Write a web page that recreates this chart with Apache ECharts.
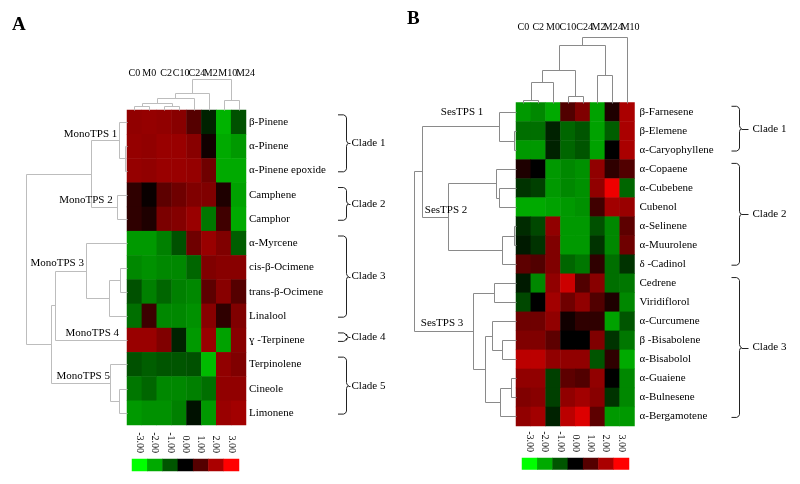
<!DOCTYPE html>
<html><head><meta charset="utf-8">
<script src="https://cdn.jsdelivr.net/npm/echarts@6/dist/echarts.min.js"></script>
<style>html,body{margin:0;padding:0;background:#fff}#c{width:800px;height:484px}</style>
</head><body><div id="c"></div>
<script>
// ---------------- DATA ----------------
const colsA = ['C0','M0','C2','C10','C24','M2','M10','M24'];
const rowsA = ['β-Pinene','α-Pinene','α-Pinene epoxide','Camphene','Camphor','α-Myrcene','cis-β-Ocimene','trans-β-Ocimene','Linalool','ɣ -Terpinene','Terpinolene','Cineole','Limonene'];
const valuesA = [
  [1.7, 1.75, 1.7, 1.6, 1.0, -0.4, -2.1, -0.95],
  [1.75, 1.7, 1.8, 1.8, 1.6, 0.2, -2.0, -1.8],
  [1.75, 1.7, 1.8, 1.8, 1.75, 1.3, -2.0, -2.0],
  [0.55, 0.1, 1.1, 1.3, 1.5, 1.5, 0.35, -1.9],
  [0.55, 0.35, 1.45, 1.55, 1.8, -1.4, 0.75, -2.0],
  [-1.8, -1.8, -1.5, -0.95, 1.3, 1.8, 1.5, -1.1],
  [-1.6, -1.7, -1.6, -1.6, -1.2, 1.5, 1.6, 1.6],
  [-0.95, -1.5, -1.2, -1.5, -1.6, 1.1, 1.6, 1.0],
  [-1.3, 0.7, -1.6, -1.6, -1.7, 1.6, 0.55, 1.5],
  [1.8, 1.8, 1.5, -0.4, -1.8, 1.8, -1.9, 1.6],
  [-0.95, -1.1, -1.0, -1.0, -0.95, -2.2, 1.7, 1.5],
  [-1.4, -1.2, -1.6, -1.6, -1.5, -1.3, 1.7, 1.7],
  [-1.8, -1.7, -1.7, -1.5, -0.2, -1.8, 1.8, 1.9]
];
// row tree A: [childA, childB, height]; ids < n are leaves, id n+k is merge k
const rowTreeA = [[1,2,0.2],[0,13,0.77],[3,4,1.03],[14,15,3.63],[6,7,0.7],[17,8,1.77],[5,18,4.1],[19,9,7.2],[11,12,0.77],[10,21,1.7],[20,22,7.53],[16,23,10.07]];
const colTreeA = [[0,1,0.4],[2,3,0.4],[8,9,0.7],[10,4,1.2],[11,5,1.7],[6,7,1.0],[12,13,3.1]];
const groupsA = [['MonoTPS 1',14],['MonoTPS 2',15],['MonoTPS 3',19],['MonoTPS 4',9],['MonoTPS 5',22]];
const cladesA = [['Clade 1',0,2],['Clade 2',3,4],['Clade 3',5,8],['Clade 4',9,9],['Clade 5',10,12]];

const colsB = ['C0','C2','M0','C10','C24','M2','M24','M10'];
const rowsB = ['β-Farnesene','β-Elemene','α-Caryophyllene','α-Copaene','α-Cubebene','Cubenol','α-Selinene','α-Muurolene','δ -Cadinol','Cedrene','Viridiflorol','α-Curcumene','β -Bisabolene','α-Bisabolol','α-Guaiene','α-Bulnesene','α-Bergamotene'];
const valuesB = [
  [-1.8, -1.6, -2.0, 0.95, 1.5, -1.9, 0.35, 2.0],
  [-1.3, -1.3, -0.4, -1.2, -1.0, -1.9, -1.1, 2.0],
  [-1.8, -1.8, -0.4, -1.2, -1.0, -1.9, 0.0, 2.0],
  [0.35, 0.0, -1.8, -1.6, -1.7, 1.7, 0.55, 0.95],
  [-0.6, -0.75, -1.8, -1.6, -1.7, 1.7, 2.8, -1.2],
  [-2.0, -2.0, -1.9, -1.8, -1.7, 0.75, 1.9, 1.8],
  [-0.5, -0.85, 1.7, -1.8, -1.8, -0.95, -1.6, 1.1],
  [-0.3, -0.6, 1.5, -1.8, -1.8, -0.6, -1.6, 1.3],
  [1.1, 0.95, 1.5, -1.2, -1.4, 0.55, -1.3, -0.6],
  [-0.3, -1.6, 1.7, 2.4, 0.95, 1.6, -1.3, -1.4],
  [-0.85, 0.0, 1.9, 1.3, 1.7, 0.95, 0.35, -1.6],
  [1.3, 1.3, 1.7, 0.2, 0.55, 0.55, -1.9, -1.0],
  [1.5, 1.5, 1.1, 0.0, 0.0, 1.5, -0.6, -1.4],
  [2.2, 2.2, 1.7, 1.7, 1.7, -1.0, 0.55, -2.0],
  [1.7, 1.7, -0.75, 1.1, 0.95, 1.7, 0.0, -1.6],
  [1.5, 1.6, -0.75, 1.7, 1.9, 1.6, -0.6, -1.6],
  [1.7, 1.9, -0.4, 2.2, 2.6, 1.1, -1.8, -1.8]
];
const rowTreeB = [[1,2,0.2],[0,17,1.67],[4,5,1.67],[3,19,2.0],[6,7,0.17],[21,8,1.43],[20,22,6.77],[18,23,9.43],[9,10,2.17],[12,13,1.43],[11,26,2.43],[14,15,0.53],[28,16,1.6],[27,29,3.1],[25,30,4.27],[24,31,10.2]];
const colTreeB = [[0,1,0.3],[3,4,0.65],[8,2,2.1],[10,9,3.27],[5,6,2.77],[11,12,5.77],[13,7,6.6]];
const groupsB = [['SesTPS 1',18],['SesTPS 2',23],['SesTPS 3',31]];
const cladesB = [['Clade 1',0,2],['Clade 2',3,8],['Clade 3',9,16]];

const legendValues = [-3, -2, -1, 0, 1, 2, 3];
const legendLabels = ['-3.00','-2.00','-1.00','0.00','1.00','2.00','3.00'];

// ---------------- LAYOUT / STYLE ----------------
const FONT = "'Liberation Serif','Times New Roman',serif";
const LAYOUT = {
  A: {
    heat: {left: 127, top: 110, width: 119, height: 315},
    rowDenLeft: 26, colDenTop: 79,
    colLabelMargin: 32, rowLabelMargin: 3,
    colLabelShift: [0, 0, 2, 2, 3, 2, 4, 7],
    bracket: {hook: 338, vert: 346, nub: 4, gap: 1},
    legend: {left: 132, top: 459, width: 107, height: 12},
    lineColor: '#bdbdbd',
    groupOffsets: [[-2,-6],[-4,-7],[-2,-7],[-8,-7],[0,-6]],
    letter: {text: 'A', left: 12, top: 16}
  },
  B: {
    heat: {left: 516, top: 102.5, width: 118.5, height: 323.5},
    rowDenLeft: 414, colDenTop: 36.7,
    colLabelMargin: 70, rowLabelMargin: 5,
    colLabelShift: [0, 0, 0, 0, 2, 1, 1, 3],
    bracket: {hook: 731.5, vert: 738.5, nub: 9, gap: 4},
    legend: {left: 522, top: 458, width: 107, height: 11.5},
    lineColor: '#8a8a8a',
    groupOffsets: [[-16,-14],[19,-7],[-10,-8]],
    letter: {text: 'B', left: 407, top: 10}
  }
};

// ---------------- BUILD ----------------
const grid = [], xAxis = [], yAxis = [], series = [], heatSeries = [];
function addGrid(box, xa, ya) {
  grid.push(Object.assign({containLabel: false}, box));
  const gi = grid.length - 1;
  xa.gridIndex = gi; ya.gridIndex = gi;
  xAxis.push(xa); yAxis.push(ya);
  return gi;
}
function vAxis(min, max, inverse) { return {type: 'value', min, max, inverse: !!inverse, show: false}; }
function nodeLayout(n, merges) {
  const pos = [], hgt = [];
  for (let i = 0; i < n; i++) { pos[i] = i; hgt[i] = 0; }
  merges.forEach((m, k) => { pos[n + k] = (pos[m[0]] + pos[m[1]]) / 2; hgt[n + k] = m[2]; });
  return {pos, hgt};
}
const px = v => Math.round(v) + 0.5;

function buildPanel(cols, rows, values, rowTree, colTree, groups, clades, L) {
  const H = L.heat;
  const nR = rows.length, nC = cols.length;
  // heatmap
  const rich = {};
  L.colLabelShift.forEach((s, i) => { rich['s' + i] = {padding: [0, 0, 0, 2 * s], fontSize: 10, fontFamily: FONT, color: '#000'}; });
  const hi = addGrid(H,
    {type: 'category', data: cols, position: 'top', axisLine: {show: false}, axisTick: {show: false}, splitLine: {show: false},
     axisLabel: {interval: 0, margin: L.colLabelMargin, fontSize: 10, fontFamily: FONT, color: '#000', hideOverlap: false,
       formatter: (v, i) => '{s' + i + '|' + v + '}', rich}},
    {type: 'category', data: rows, inverse: true, position: 'right', axisLine: {show: false}, axisTick: {show: false}, splitLine: {show: false},
     axisLabel: {interval: 0, margin: L.rowLabelMargin, fontSize: 11, fontFamily: FONT, color: '#000', align: 'left'}});
  const hdata = [];
  values.forEach((row, r) => row.forEach((v, c) => hdata.push([c, r, v])));
  series.push({type: 'heatmap', xAxisIndex: hi, yAxisIndex: hi, data: hdata, emphasis: {disabled: true}, itemStyle: {borderWidth: 0}});
  heatSeries.push(series.length - 1);

  // row dendrogram
  const rl = nodeLayout(nR, rowTree);
  const rootR = rowTree[rowTree.length - 1][2];
  const ri = addGrid({left: L.rowDenLeft, top: H.top, width: H.left - L.rowDenLeft, height: H.height},
    vAxis(0, rootR, true), vAxis(-0.5, nR - 0.5, true));
  const rsegs = rowTree.map(m => [rl.pos[m[0]], rl.hgt[m[0]], rl.pos[m[1]], rl.hgt[m[1]], m[2]]);
  series.push({type: 'custom', xAxisIndex: ri, yAxisIndex: ri, clip: false, silent: true, data: rsegs,
    renderItem: (p, api) => {
      const a = api.value(0), ha = api.value(1), b = api.value(2), hb = api.value(3), h = api.value(4);
      const pts = [api.coord([ha, a]), api.coord([h, a]), api.coord([h, b]), api.coord([hb, b])].map(q => [px(q[0]), px(q[1])]);
      return {type: 'polyline', shape: {points: pts}, style: {stroke: L.lineColor, lineWidth: 1, fill: null}};
    }});
  // group labels on row dendrogram
  series.push({type: 'custom', xAxisIndex: ri, yAxisIndex: ri, clip: false, silent: true,
    data: groups.map((g, i) => [rl.pos[g[1]], rl.hgt[g[1]], i]),
    renderItem: (p, api) => {
      const i = api.value(2), c = api.coord([api.value(1), api.value(0)]), off = L.groupOffsets[i];
      return {type: 'text', x: c[0] + off[0], y: c[1] + off[1],
        style: {text: groups[i][0], align: 'right', verticalAlign: 'middle', font: '11px ' + FONT, fill: '#000'}};
    }});

  // column dendrogram
  const cl = nodeLayout(nC, colTree);
  const rootC = colTree[colTree.length - 1][2];
  const ci = addGrid({left: H.left, top: L.colDenTop, width: H.width, height: H.top - L.colDenTop},
    vAxis(-0.5, nC - 0.5, false), vAxis(0, rootC, false));
  const csegs = colTree.map(m => [cl.pos[m[0]], cl.hgt[m[0]], cl.pos[m[1]], cl.hgt[m[1]], m[2]]);
  series.push({type: 'custom', xAxisIndex: ci, yAxisIndex: ci, clip: false, silent: true, data: csegs,
    renderItem: (p, api) => {
      const a = api.value(0), ha = api.value(1), b = api.value(2), hb = api.value(3), h = api.value(4);
      const pts = [api.coord([a, ha]), api.coord([a, h]), api.coord([b, h]), api.coord([b, hb])].map(q => [px(q[0]), px(q[1])]);
      return {type: 'polyline', shape: {points: pts}, style: {stroke: L.lineColor, lineWidth: 1, fill: null}};
    }});

  // clade brackets
  const B = L.bracket;
  const bi = addGrid({left: B.hook, top: H.top, width: B.vert - B.hook, height: H.height},
    vAxis(0, 1, false), vAxis(-0.5, nR - 0.5, true));
  series.push({type: 'custom', xAxisIndex: bi, yAxisIndex: bi, clip: false, silent: true,
    data: clades.map((c, i) => [c[1], c[2], i]),
    renderItem: (p, api) => {
      const f = api.value(0), l = api.value(1), i = api.value(2);
      const y0 = api.coord([0, f - 0.3])[1], y1 = api.coord([0, l + 0.05])[1];
      const xh = api.coord([0, 0])[0], xv = px(api.coord([1, 0])[0]);
      const ym = (y0 + y1) / 2;
      const pts = [[xh, y0], [xv - 3, y0], [xv - 1, y0 + 1], [xv, y0 + 3], [xv, ym - 3], [xv + 0.6, ym - 1], [xv + 2, ym],
                   [xv + 0.6, ym + 1], [xv, ym + 3], [xv, y1 - 3], [xv - 1, y1 - 1], [xv - 3, y1], [xh, y1]];
      return {type: 'group', children: [
        {type: 'polyline', shape: {points: pts}, style: {stroke: '#222', lineWidth: 1, fill: null}},
        {type: 'line', shape: {x1: xv + 2, y1: px(ym), x2: xv + B.nub, y2: px(ym)}, style: {stroke: '#222', lineWidth: 1}},
        {type: 'text', x: xv + B.nub + B.gap, y: ym,
         style: {text: clades[i][0], align: 'left', verticalAlign: 'middle', font: '11px ' + FONT, fill: '#000'}}
      ]};
    }});

  // colour key
  const G = L.legend;
  const li = addGrid(G,
    {type: 'category', data: legendLabels, position: 'top', axisLine: {show: false}, axisTick: {show: false},
     axisLabel: {interval: 0, rotate: 90, margin: 6, fontSize: 10, fontFamily: FONT, color: '#000'}},
    {type: 'category', data: [''], show: false});
  series.push({type: 'heatmap', xAxisIndex: li, yAxisIndex: li, emphasis: {disabled: true},
    data: legendValues.map((v, i) => [i, 0, v])});
  heatSeries.push(series.length - 1);
}

buildPanel(colsA, rowsA, valuesA, rowTreeA, colTreeA, groupsA, cladesA, LAYOUT.A);
buildPanel(colsB, rowsB, valuesB, rowTreeB, colTreeB, groupsB, cladesB, LAYOUT.B);

const option = {
  animation: false,
  backgroundColor: '#fff',
  grid, xAxis, yAxis, series,
  visualMap: {type: 'continuous', show: false, min: -3, max: 3, dimension: 2, seriesIndex: heatSeries,
    inRange: {color: ['#00ff00', '#000000', '#ff0000']}},
  graphic: [LAYOUT.A.letter, LAYOUT.B.letter].map(l => ({type: 'text', left: l.left, top: l.top,
    style: {text: l.text, font: 'bold 19px ' + FONT, fill: '#000'}}))
};
const chart = echarts.init(document.getElementById('c'), null, {renderer: 'canvas'});
chart.setOption(option);
</script></body></html>
